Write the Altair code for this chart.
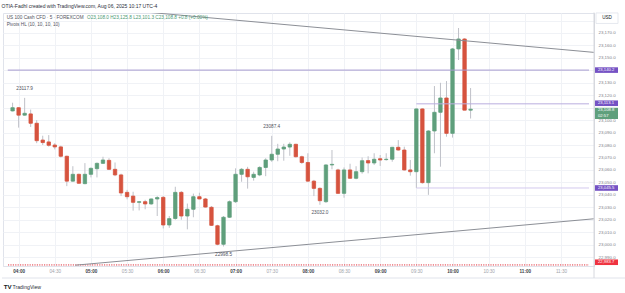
import altair as alt
import pandas as pd

# US 100 Cash CFD, 5-minute candles from 03:55 to 10:15 (UTC-4)
opens = [23107.4, 23110.0, 23104.0, 23105.0, 23097.5, 23084.0, 23082.5, 23080.0, 23078.5, 23071.0,
         23051.0, 23056.5, 23049.0, 23056.5, 23061.0, 23065.3, 23067.7, 23060.5, 23056.0, 23042.0,
         23039.0, 23034.0, 23034.5, 23032.7, 23036.7, 23038.0, 23015.8, 23021.0, 23042.0, 23023.0,
         23028.4, 23038.5, 23036.7, 23030.0, 23015.2, 23000.3, 23022.0, 23034.5, 23056.5, 23060.5,
         23054.0, 23056.0, 23062.0, 23068.0, 23072.6, 23076.8, 23078.4, 23080.6, 23070.6, 23066.0,
         23051.0, 23045.2, 23034.5, 23064.0, 23060.0, 23041.2, 23060.0, 23053.3, 23058.6, 23067.5,
         23065.6, 23069.0, 23068.3, 23068.6, 23078.2, 23076.0, 23060.0, 23058.6, 23109.0, 23049.8,
         23091.3, 23106.3, 23117.8, 23089.4, 23157.2, 23165.2, 23108.0]
highs = [23114.0, 23110.5, 23117.9, 23108.5, 23100.0, 23087.5, 23088.0, 23081.5, 23079.5, 23071.5,
         23063.0, 23057.0, 23065.5, 23062.0, 23066.0, 23070.6, 23069.4, 23066.0, 23057.0, 23044.0,
         23042.5, 23035.0, 23036.0, 23037.0, 23039.0, 23039.0, 23023.0, 23046.5, 23043.0, 23033.0,
         23041.0, 23041.7, 23037.5, 23031.0, 23016.0, 23023.0, 23035.5, 23061.3, 23061.5, 23062.5,
         23058.6, 23063.0, 23069.4, 23087.4, 23081.0, 23081.0, 23082.2, 23081.0, 23071.5, 23073.4,
         23052.0, 23046.0, 23064.5, 23076.0, 23061.0, 23062.0, 23065.0, 23063.0, 23070.0, 23071.0,
         23073.4, 23072.0, 23073.4, 23078.5, 23084.0, 23078.7, 23068.0, 23109.5, 23109.5, 23092.0,
         23127.4, 23130.0, 23131.4, 23158.0, 23174.0, 23165.8, 23125.8]
lows = [23107.0, 23094.0, 23103.5, 23094.5, 23081.5, 23080.0, 23078.7, 23076.5, 23070.0, 23047.0,
        23050.5, 23049.0, 23048.5, 23054.0, 23054.0, 23064.8, 23060.0, 23055.0, 23039.0, 23036.4,
        23027.3, 23027.5, 23028.4, 23032.0, 23023.0, 23013.0, 23013.5, 23020.0, 23020.0, 23012.3,
        23022.0, 23036.5, 23029.8, 23015.0, 22999.5, 22998.5, 23021.5, 23033.5, 23050.5, 23045.0,
        23051.4, 23055.0, 23055.0, 23066.5, 23067.0, 23067.4, 23071.4, 23070.0, 23064.8, 23050.5,
        23039.0, 23032.0, 23033.5, 23060.5, 23041.0, 23037.7, 23053.0, 23052.5, 23057.0, 23057.3,
        23064.0, 23063.2, 23067.5, 23066.6, 23075.5, 23059.5, 23055.4, 23045.5, 23049.0, 23040.0,
        23073.4, 23062.6, 23086.7, 23086.0, 23148.3, 23108.0, 23101.3]
closes = [23110.0, 23104.0, 23105.5, 23097.5, 23083.5, 23082.0, 23079.8, 23078.5, 23071.0, 23051.0,
          23056.5, 23049.3, 23056.5, 23061.3, 23065.3, 23068.0, 23060.5, 23056.0, 23041.5, 23038.5,
          23034.0, 23034.5, 23032.7, 23036.7, 23037.8, 23015.8, 23020.9, 23042.0, 23023.0, 23028.4,
          23038.5, 23036.7, 23030.2, 23015.5, 23000.3, 23022.0, 23034.5, 23056.5, 23060.5, 23054.5,
          23056.5, 23062.0, 23068.0, 23072.6, 23076.8, 23078.4, 23080.6, 23070.6, 23066.0, 23051.0,
          23045.2, 23035.3, 23064.0, 23064.5, 23041.2, 23060.0, 23053.3, 23058.6, 23067.4, 23065.6,
          23068.6, 23068.0, 23068.6, 23078.2, 23076.0, 23060.0, 23058.6, 23109.0, 23049.8, 23091.3,
          23106.3, 23117.8, 23089.4, 23157.2, 23165.2, 23108.0, 23108.8]
# bar open time, in minutes after 04:00
minutes = [-5 + 5 * i for i in range(len(opens))]

# Pivots HL labels
pivot_minutes = [5, 210, 170, 250]
pivot_prices = [23117.9, 23087.4, 22998.5, 23032.0]
pivot_kinds = ["high", "high", "low", "low"]

# horizontal levels: price, start minute, colour
level_prices = [23140.2, 23113.1, 23045.5]
level_starts = [-9.0, 330, 330]
level_colors = ["#a69bd0", "#b9addf", "#d3c9ee"]
ref_line_price = 22983.7

# trend lines (minute, price) end points
trend_id = ["upper", "upper", "lower", "lower"]
trend_minutes = [100, 480, 47, 480]
trend_prices = [23187.3, 23154.2, 22983.5, 23021.0]

# axis labels (23,140 and 23,110 sit under the price badges)
time_ticks = list(range(0, 451, 30))
price_ticks = [22990 + 10 * k for k in range(20)]
hidden_price_labels = [23140, 23110, 23180]

X0, X1 = -8.81, 473.25
Y0, Y1 = 22982.85, 23186.06
GREEN, RED = "#5f9f7c", "#d6533e"
FONT = "Liberation Sans"

xs = alt.Scale(domain=[X0, X1], nice=False, zero=False)
ys = alt.Scale(domain=[Y0, Y1], nice=False, zero=False)

hide_test = " || ".join(f"datum.value == {v}" for v in hidden_price_labels)

x_axis = alt.Axis(
    values=time_ticks, title=None, grid=True, gridColor="#f0f2f6", gridWidth=1,
    ticks=False, domain=True, domainColor="#e0e3eb", labelFontSize=4.6, labelFont=FONT,
    labelPadding=2.5, labelFlush=False, labelOverlap=False,
    labelExpr="(floor(datum.value/60)+4 < 10 ? '0' : '') + (floor(datum.value/60)+4) + ':' + (datum.value % 60 == 0 ? '00' : '30')",
    labelColor={"condition": {"test": "datum.value % 60 == 0", "value": "#3a3d46"}, "value": "#a0a3ab"},
    labelFontWeight={"condition": {"test": "datum.value % 60 == 0", "value": "bold"}, "value": "normal"},
)
y_axis = alt.Axis(
    orient="right", values=price_ticks, title=None, grid=True, gridColor="#f0f2f6", gridWidth=1,
    ticks=False, domain=True, domainColor="#d6d8de", labelFontSize=4.4, labelFont=FONT,
    labelColor="#7d808a", labelPadding=4, labelAlign="left", labelOverlap=False, labelFlush=False,
    labelExpr=f"({hide_test}) ? '' : format(datum.value, ',.1f')",
)


def X(field):
    return alt.X(field, scale=xs, axis=x_axis)


def Y(field):
    return alt.Y(field, scale=ys, axis=y_axis)


candles = pd.DataFrame({"t": minutes, "o": opens, "h": highs, "l": lows, "c": closes})
candles["dir"] = ["up" if c >= o else "down" for o, c in zip(opens, closes)]
color_enc = alt.Color("dir:N", scale=alt.Scale(domain=["up", "down"], range=[GREEN, RED]), legend=None)

wicks = alt.Chart(candles).mark_rule(color="#bfc1c8", strokeWidth=1).encode(
    x=X("t:Q"), y=Y("l:Q"), y2="h:Q")
bodies = alt.Chart(candles).mark_bar(size=3.4, strokeWidth=0.8).encode(
    x=X("t:Q"), y=Y("o:Q"), y2="c:Q", color=color_enc, stroke=color_enc)

levels = pd.DataFrame({"p": level_prices, "t0": level_starts, "t1": [X1] * 3, "col": level_colors})
level_rules = alt.Chart(levels).mark_rule(strokeWidth=1).encode(
    x=X("t0:Q"), x2="t1:Q", y=Y("p:Q"), color=alt.Color("col:N", scale=None))
ref_rule = alt.Chart(pd.DataFrame({"p": [ref_line_price], "t0": [X0], "t1": [X1]})).mark_rule(
    color="#e0343f", strokeWidth=1, strokeDash=[1.2, 1.2]
).encode(x=X("t0:Q"), x2="t1:Q", y=Y("p:Q"))

trends = pd.DataFrame({"id": trend_id, "t": trend_minutes, "p": trend_prices})
trend_lines = alt.Chart(trends).mark_line(color="#8c8f96", strokeWidth=1, clip=True).encode(
    x=X("t:Q"), y=Y("p:Q"), detail="id:N")

pivots = pd.DataFrame({"t": pivot_minutes, "p": pivot_prices, "kind": pivot_kinds})
pivots["label"] = [f"{v:.1f}" for v in pivot_prices]
pivot_hi = alt.Chart(pivots[pivots.kind == "high"]).mark_text(
    fontSize=4.7, font=FONT, color="#50535e", dy=-8.5
).encode(x=X("t:Q"), y=Y("p:Q"), text="label:N")
pivot_lo = alt.Chart(pivots[pivots.kind == "low"]).mark_text(
    fontSize=4.7, font=FONT, color="#50535e", dy=8.5
).encode(x=X("t:Q"), y=Y("p:Q"), text="label:N")

# price-scale badges
badge_prices = [23140.2, 23113.1, 23045.5, 22983.7]
badge_colors = ["#7552c4", "#7552c4", "#7552c4", "#ef3340"]
badge_shift = [0, -0.6, 0, -2.7]
badges = pd.DataFrame({"p": badge_prices, "col": badge_colors, "dy": badge_shift})
badges["label"] = [f"{v:,.1f}" for v in badge_prices]
badge_layers = []
for i, row in badges.iterrows():
    one = badges.iloc[[i]]
    badge_layers.append(
        alt.Chart(one).mark_tick(orient="horizontal", size=23, thickness=5.6, yOffset=row["dy"],
                                 color=row["col"], opacity=1).encode(x=alt.value(603.5), y=Y("p:Q"))
    )
    badge_layers.append(
        alt.Chart(one).mark_text(align="left", fontSize=4.2, font=FONT, color="white", dy=row["dy"]).encode(
            x=alt.value(595), y=Y("p:Q"), text="label:N")
    )

last_price = closes[-1]
last = pd.DataFrame({"p": [last_price], "label": [f"{last_price:,.1f}"], "timer": ["02:57"]})
last_box = alt.Chart(last).mark_tick(orient="horizontal", size=23, thickness=11.2, yOffset=4.2,
                                     color=GREEN, opacity=1).encode(x=alt.value(603.5), y=Y("p:Q"))
last_txt = alt.Chart(last).mark_text(align="left", fontSize=4.2, font=FONT, color="white", dy=1.3).encode(
    x=alt.value(595), y=Y("p:Q"), text="label:N")
last_timer = alt.Chart(last).mark_text(align="left", fontSize=4.2, font=FONT, color="white", dy=6.9).encode(
    x=alt.value(595), y=Y("p:Q"), text="timer:N")

# currency box above the price scale
usd_box = alt.Chart(pd.DataFrame({"s": ["USD"]})).mark_tick(
    orient="horizontal", size=22, thickness=10.5, color="white", stroke="#e0e3eb", strokeWidth=0.8, opacity=1
).encode(x=alt.value(604), y=alt.value(5.2))
usd_txt = alt.Chart(pd.DataFrame({"s": ["USD"]})).mark_text(fontSize=4.6, font=FONT, color="#131722").encode(
    x=alt.value(604), y=alt.value(5.4), text="s:N")

# frame of the time scale
frame_h = alt.Chart(pd.DataFrame({"k": [0]})).mark_rule(color="#e0e3eb", strokeWidth=1).encode(
    x=alt.value(-1), x2=alt.value(622), y=alt.value(265))
frame_v = alt.Chart(pd.DataFrame({"k": [0]})).mark_rule(color="#d6d8de", strokeWidth=1).encode(
    x=alt.value(591), y=alt.value(-0.5), y2=alt.value(265))


def text_item(s, x, y, size=4.8, color="#131722", weight="normal"):
    return alt.Chart(pd.DataFrame({"s": [s]})).mark_text(
        align="left", baseline="middle", fontSize=size, font=FONT, color=color, fontWeight=weight
    ).encode(x=alt.value(x), y=alt.value(y), text="s:N")


header = text_item("OTIA-Fadhl created with TradingView.com, Aug 06, 2025 10:17 UTC-4", -1.5, -7, 5.0, "#2a2e39")
legend1 = text_item("US 100 Cash CFD · 5 · FOREXCOM", 3.7, 5.3, 4.7, "#50535e")
legend2 = text_item("O23,108.0  H23,125.8  L23,101.3  C23,108.8  +0.8 (+0.00%)", 84, 5.3, 4.7, "#4d9a74")
legend3 = text_item("Pivots HL (10, 10, 10, 10)", 3.7, 12, 4.7, "#50535e")
logo = text_item("TV", 0.8, 274, 6.2, "#131722", "bold")
logo_name = text_item("TradingView", 9.5, 274, 5.2, "#2a2e39")

chart = alt.layer(
    wicks, bodies, level_rules, ref_rule, trend_lines, pivot_hi, pivot_lo,
    *badge_layers, last_box, last_txt, last_timer, usd_box, usd_txt,
    frame_h, frame_v, header, legend1, legend2, legend3, logo, logo_name,
).properties(
    width=591, height=253,
    padding={"left": 3, "top": 13, "right": 31, "bottom": 27},
    autosize=alt.AutoSizeParams(type="none"),
    background="white",
).configure_view(stroke="#e0e3eb", strokeWidth=1)

chart.save("out.html", embed_options={"renderer": "svg", "actions": False})
